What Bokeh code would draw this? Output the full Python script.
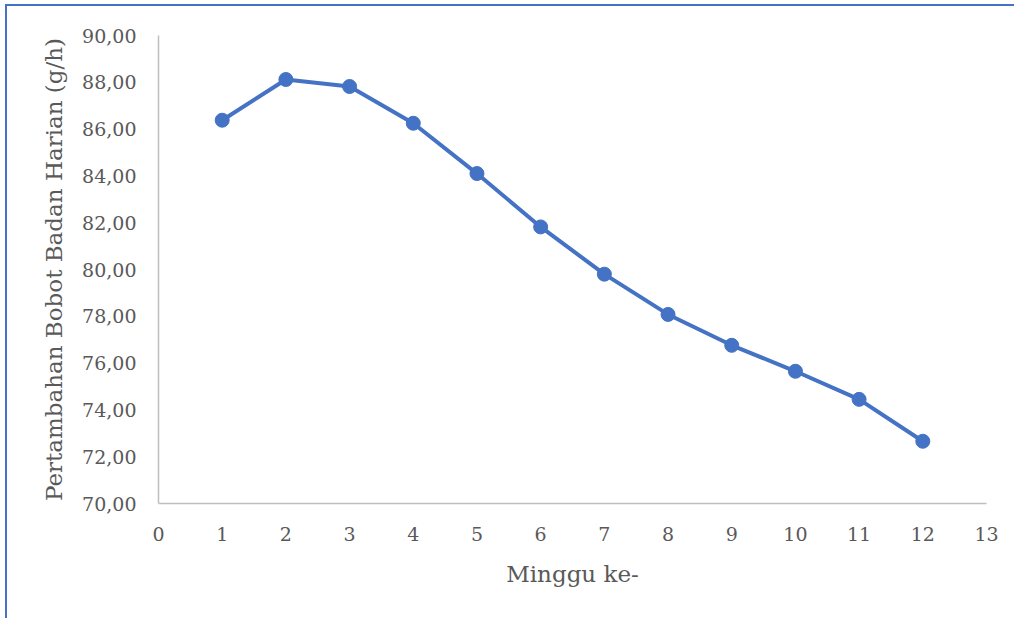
from bokeh.plotting import figure
from bokeh.models import FixedTicker, CustomJSTickFormatter, Range1d
from bokeh.embed import file_html
from bokeh.resources import INLINE

# Data
weeks = [1, 2, 3, 4, 5, 6, 7, 8, 9, 10, 11, 12]
gain = [86.38, 88.12, 87.82, 86.25, 84.10, 81.82, 79.80, 78.08, 76.76, 75.65, 74.45, 72.66]
x_ticks = list(range(0, 14))
y_ticks = [70, 72, 74, 76, 78, 80, 82, 84, 86, 88, 90]

x_title = "Minggu ke-"
y_title = "Pertambahan Bobot Badan Harian (g/h)"

FONT = "DejaVu Serif"
TEXT = "#595959"
BLUE = "#4472C4"

p = figure(width=1009, height=614, output_backend="svg", toolbar_location=None,
           x_range=Range1d(0, 13), y_range=Range1d(70, 90),
           min_border_left=151, min_border_right=30, min_border_top=29, min_border_bottom=117)
p.styles = {"margin-left": "5px", "margin-top": "4px",
            "border-left": "2px solid #4472C4", "border-top": "2px solid #4472C4"}
p.outline_line_color = None
p.background_fill_color = "white"
p.border_fill_color = "white"
p.xgrid.grid_line_color = None
p.ygrid.grid_line_color = None

p.line(weeks, gain, line_color=BLUE, line_width=4)
p.scatter(weeks, gain, size=14, fill_color=BLUE, line_color=BLUE)

for ax in (p.xaxis[0], p.yaxis[0]):
    ax.axis_line_color = "#BFBFBF"
    ax.axis_line_width = 1.5
    ax.major_tick_line_color = None
    ax.minor_tick_line_color = None
    ax.major_tick_out = 0
    ax.major_tick_in = 0
    ax.major_label_text_font = FONT
    ax.major_label_text_font_size = "19px"
    ax.major_label_text_color = TEXT
    ax.axis_label_text_font = FONT
    ax.axis_label_text_font_size = "23px"
    ax.axis_label_text_color = TEXT
    ax.axis_label_text_font_style = "normal"

p.xaxis[0].ticker = FixedTicker(ticks=x_ticks)
p.yaxis[0].ticker = FixedTicker(ticks=y_ticks)
p.yaxis[0].formatter = CustomJSTickFormatter(code="return tick.toFixed(2).replace('.', ',');")
p.xaxis[0].major_label_standoff = 23
p.yaxis[0].major_label_standoff = 22
p.xaxis[0].axis_label = x_title
p.yaxis[0].axis_label = y_title
p.xaxis[0].axis_label_standoff = 17
p.yaxis[0].axis_label_standoff = 12

open("out.html", "w").write(file_html(p, INLINE))
